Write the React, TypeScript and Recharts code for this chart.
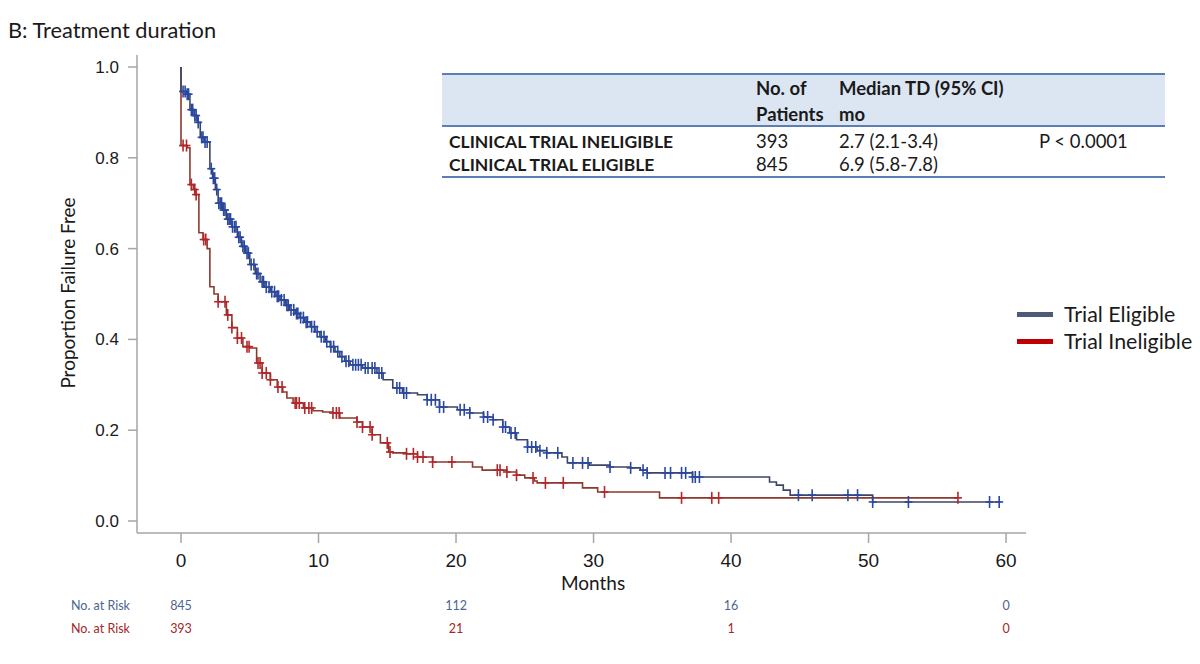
import React from "react";
import { ComposedChart, Line, Scatter, XAxis, YAxis } from "recharts";

// ---------- data ----------
const xTicks = [0, 10, 20, 30, 40, 50, 60];
const yTicks = [0, 0.2, 0.4, 0.6, 0.8, 1.0];

const eligibleMonths = [0, 0, 0.4, 0.65, 0.95, 1.2, 1.4, 1.7, 2.1, 2.3, 2.5, 2.7, 3.0, 3.3, 3.7, 4.1, 4.4, 4.7, 5.0, 5.4, 5.75, 6.1, 6.5, 6.9, 7.2, 7.6, 7.9, 8.3, 8.65, 9.0, 9.4, 9.75, 10.1, 10.5, 10.85, 11.2, 11.55, 11.9, 12.3, 13.2, 14.25, 14.7, 15.4, 16.1, 17.2, 17.9, 18.8, 20.1, 21.0, 22.0, 22.7, 23.4, 23.9, 24.4, 25.2, 25.9, 26.6, 27.7, 28.1, 29.7, 31.2, 32.7, 33.4, 33.9, 37.2, 42.8, 43.3, 43.8, 44.3, 50.3, 59.6];
const eligibleSurvival = [1.0, 0.946, 0.94, 0.906, 0.893, 0.878, 0.845, 0.835, 0.776, 0.755, 0.73, 0.7, 0.685, 0.665, 0.648, 0.625, 0.605, 0.59, 0.565, 0.545, 0.527, 0.515, 0.505, 0.495, 0.487, 0.475, 0.465, 0.457, 0.448, 0.438, 0.428, 0.417, 0.406, 0.395, 0.384, 0.373, 0.362, 0.352, 0.344, 0.337, 0.326, 0.311, 0.293, 0.282, 0.278, 0.267, 0.251, 0.245, 0.238, 0.229, 0.223, 0.207, 0.194, 0.179, 0.163, 0.155, 0.15, 0.141, 0.128, 0.123, 0.119, 0.117, 0.112, 0.106, 0.097, 0.086, 0.079, 0.068, 0.057, 0.042, 0.042];

const ineligibleMonths = [0, 0, 0.45, 0.65, 0.9, 1.05, 1.3, 1.6, 1.9, 2.1, 2.4, 2.7, 3.3, 3.7, 4.1, 4.5, 5.0, 5.5, 5.9, 6.5, 7.0, 7.4, 7.7, 8.15, 8.9, 9.6, 10.3, 11.0, 11.55, 12.8, 13.2, 13.9, 14.5, 15.1, 15.4, 16.4, 17.2, 18.3, 21.2, 21.9, 23.7, 24.4, 25.0, 25.7, 25.9, 29.2, 30.3, 34.8, 56.5];
const ineligibleSurvival = [1.0, 0.827, 0.822, 0.741, 0.73, 0.719, 0.635, 0.62, 0.6, 0.516, 0.5, 0.483, 0.454, 0.426, 0.403, 0.384, 0.381, 0.348, 0.326, 0.311, 0.295, 0.284, 0.271, 0.26, 0.249, 0.243, 0.24, 0.238, 0.227, 0.218, 0.207, 0.19, 0.172, 0.152, 0.15, 0.148, 0.141, 0.13, 0.119, 0.112, 0.108, 0.101, 0.095, 0.088, 0.084, 0.073, 0.064, 0.051, 0.051];

const eligibleCensorMonths = [0.15, 0.3, 0.45, 0.55, 0.75, 0.85, 1.0, 1.1, 1.25, 1.5, 1.6, 1.75, 1.9, 2.2, 2.35, 2.45, 2.6, 2.75, 2.85, 2.95, 3.1, 3.2, 3.4, 3.5, 3.6, 3.75, 3.9, 4.0, 4.2, 4.3, 4.5, 4.6, 4.8, 4.9, 5.1, 5.3, 5.5, 5.6, 5.9, 6.0, 6.2, 6.4, 6.6, 6.8, 7.0, 7.1, 7.3, 7.5, 7.7, 7.8, 8.0, 8.2, 8.4, 8.5, 8.7, 8.9, 9.1, 9.2, 9.5, 9.7, 9.9, 10.2, 10.4, 10.6, 10.9, 11.1, 11.4, 11.7, 12.0, 12.2, 12.5, 12.7, 12.9, 13.1, 13.4, 13.6, 13.9, 14.1, 14.4, 14.6, 15.7, 15.9, 16.2, 16.4, 17.9, 18.2, 18.5, 18.8, 19.1, 20.3, 20.6, 21.0, 22.0, 22.3, 22.7, 23.4, 23.6, 24.0, 24.3, 25.2, 25.5, 25.8, 26.1, 26.6, 27.4, 28.5, 29.2, 29.6, 31.2, 32.7, 33.6, 33.9, 35.2, 35.6, 36.4, 36.7, 37.2, 37.4, 37.7, 44.9, 45.9, 48.5, 49.2, 50.3, 52.9, 58.8, 59.5];
const ineligibleCensorMonths = [0.15, 0.4, 0.75, 1.0, 1.1, 1.65, 1.8, 2.7, 3.2, 3.4, 3.7, 4.1, 4.4, 4.8, 4.95, 5.6, 5.75, 5.9, 6.2, 6.5, 7.05, 7.35, 8.3, 8.4, 8.6, 9.0, 9.3, 9.5, 11.05, 11.3, 11.5, 12.8, 13.2, 13.75, 13.9, 15.0, 15.2, 16.4, 16.9, 17.2, 17.6, 18.3, 19.7, 23.0, 23.2, 23.7, 24.4, 25.6, 26.5, 27.8, 30.8, 36.4, 38.6, 39.1, 56.5];

const riskMonths = [0, 20, 40, 60];
const riskEligible = [845, 112, 16, 0];
const riskIneligible = [393, 21, 1, 0];

const tableHeader1 = ["No. of", "Median TD (95% CI)"];
const tableHeader2 = ["Patients", "mo"];
const tableGroups = ["CLINICAL TRIAL INELIGIBLE", "CLINICAL TRIAL ELIGIBLE"];
const tablePatients = ["393", "845"];
const tableMedians = ["2.7 (2.1-3.4)", "6.9 (5.8-7.8)"];
const tablePValue = "P < 0.0001";

// ---------- geometry / style ----------
const W = 1200;
const H = 664;
const PLOT_LEFT = 137;
const PLOT_TOP = 55;
const PLOT_RIGHT = 1026;
const PLOT_BOTTOM = 533;
const Y_AXIS_W = 60;
const X_AXIS_H = 30;
const X_MIN = -3.2;
const X_MAX = 61.45;
const Y_MIN = -0.0264;
const Y_MAX = 1.0264;

const HUMANIST = "Lato, 'Open Sans', 'Noto Sans', sans-serif";
const ARIAL = "'Liberation Sans', Arial, sans-serif";

const ELIG_LINE = "#3d4566";
const ELIG_MARK = "#2a48a0";
const INEL_LINE = "#8b3a2e";
const INEL_MARK = "#b3262a";
const AXIS = "#a6a6a6";
const TABLE_LINE = "#5b7fb5";

const xPx = (m: number) => PLOT_LEFT + ((m - X_MIN) / (X_MAX - X_MIN)) * (PLOT_RIGHT - PLOT_LEFT);

const survAt = (ts: number[], ss: number[], t: number) => {
  let v = ss[0];
  for (let i = 0; i < ts.length; i++) if (ts[i] <= t) v = ss[i];
  return v;
};

const eligibleData = eligibleMonths.map((t, i) => ({ t, s: eligibleSurvival[i] }));
const ineligibleData = ineligibleMonths.map((t, i) => ({ t, s: ineligibleSurvival[i] }));
const eligibleCensor = eligibleCensorMonths.map((t) => ({ t, s: survAt(eligibleMonths, eligibleSurvival, t) }));
const ineligibleCensor = ineligibleCensorMonths.map((t) => ({ t, s: survAt(ineligibleMonths, ineligibleSurvival, t) }));

const makeMark = (color: string) => (props: any) => {
  const { cx, cy } = props;
  if (cx == null || cy == null) return <g />;
  return (
    <g>
      <line x1={cx} x2={cx} y1={cy - 6} y2={cy + 6} stroke={color} strokeWidth={1.6} />
      <line x1={cx - 4} x2={cx + 4} y1={cy} y2={cy} stroke={color} strokeWidth={1.6} />
    </g>
  );
};

const Txt = ({ x, cy, size, children, weight = 400, color = "#1a1a1a", family = HUMANIST, anchor = "left" }: any) => {
  const h = Math.round(size * 1.2);
  const style: React.CSSProperties = {
    position: "absolute",
    top: cy - h / 2,
    height: h,
    lineHeight: `${h}px`,
    fontSize: size,
    fontWeight: weight,
    color,
    fontFamily: family,
    whiteSpace: "nowrap",
    left: x,
  };
  if (anchor === "center") style.transform = "translateX(-50%)";
  return <div style={style}>{children}</div>;
};

export default function App() {
  const T_LEFT = 442;
  const T_RIGHT = 1165;
  const COL_PAT = 756;
  const COL_MED = 839;
  const COL_P = 1039;
  const LEFT_LABEL = 449;
  const ROW_Y = [141, 164];
  return (
    <div style={{ position: "absolute", left: 0, top: 0, width: W, height: H, background: "#fff", overflow: "hidden" }}>
      <Txt x={8} cy={30} size={21.8}>B: Treatment duration</Txt>

      <div style={{ position: "absolute", left: 0, top: 0 }}>
        <ComposedChart
          width={W}
          height={H}
          margin={{ top: PLOT_TOP, left: PLOT_LEFT - Y_AXIS_W, right: W - PLOT_RIGHT, bottom: H - PLOT_BOTTOM - X_AXIS_H }}
        >
          <XAxis
            type="number"
            dataKey="t"
            domain={[X_MIN, X_MAX]}
            allowDataOverflow
            ticks={xTicks}
            height={X_AXIS_H}
            tickSize={10}
            tickMargin={11}
            stroke={AXIS}
            strokeWidth={1.5}
            tick={{ fill: "#1a1a1a", fontSize: 19, fontFamily: ARIAL }}
            interval={0}
          />
          <YAxis
            type="number"
            domain={[Y_MIN, Y_MAX]}
            allowDataOverflow
            ticks={yTicks}
            width={Y_AXIS_W}
            tickSize={9}
            tickMargin={9}
            stroke={AXIS}
            strokeWidth={1.5}
            tickFormatter={(v: number) => v.toFixed(1)}
            tick={{ fill: "#1a1a1a", fontSize: 17, fontFamily: ARIAL }}
            interval={0}
          />
          <Line
            data={ineligibleData}
            dataKey="s"
            type="stepAfter"
            stroke={INEL_LINE}
            strokeWidth={1.6}
            dot={false}
            activeDot={false}
            isAnimationActive={false}
          />
          <Line
            data={eligibleData}
            dataKey="s"
            type="stepAfter"
            stroke={ELIG_LINE}
            strokeWidth={1.6}
            dot={false}
            activeDot={false}
            isAnimationActive={false}
          />
          <Scatter data={ineligibleCensor} dataKey="s" shape={makeMark(INEL_MARK)} isAnimationActive={false} />
          <Scatter data={eligibleCensor} dataKey="s" shape={makeMark(ELIG_MARK)} isAnimationActive={false} />
        </ComposedChart>
      </div>

      {/* y axis title */}
      <div
        style={{
          position: "absolute",
          left: 68,
          top: 293,
          transform: "translate(-50%, -50%) rotate(-90deg)",
          fontFamily: HUMANIST,
          fontSize: 19,
          lineHeight: "22px",
          color: "#1a1a1a",
          whiteSpace: "nowrap",
        }}
      >
        Proportion Failure Free
      </div>
      {/* x axis title */}
      <Txt x={593} cy={582} size={19} anchor="center">Months</Txt>

      {/* summary table */}
      <div style={{ position: "absolute", left: T_LEFT, top: 74, width: T_RIGHT - T_LEFT, height: 52, background: "#dce6f2" }} />
      <div style={{ position: "absolute", left: T_LEFT, top: 73, width: T_RIGHT - T_LEFT, height: 2, background: TABLE_LINE }} />
      <div style={{ position: "absolute", left: T_LEFT, top: 125, width: T_RIGHT - T_LEFT, height: 1.5, background: TABLE_LINE }} />
      <div style={{ position: "absolute", left: T_LEFT, top: 176, width: T_RIGHT - T_LEFT, height: 2, background: TABLE_LINE }} />
      <Txt x={COL_PAT} cy={88} size={18.5} weight={700}>{tableHeader1[0]}</Txt>
      <Txt x={COL_MED} cy={88} size={18.5} weight={700}>{tableHeader1[1]}</Txt>
      <Txt x={COL_PAT} cy={114} size={18.5} weight={700}>{tableHeader2[0]}</Txt>
      <Txt x={COL_MED} cy={114} size={18.5} weight={700}>{tableHeader2[1]}</Txt>
      {tableGroups.map((g, i) => (
        <React.Fragment key={g}>
          <Txt x={LEFT_LABEL} cy={ROW_Y[i]} size={17.5} weight={700}>{g}</Txt>
          <Txt x={COL_PAT} cy={ROW_Y[i]} size={18.5}>{tablePatients[i]}</Txt>
          <Txt x={COL_MED} cy={ROW_Y[i]} size={18.5}>{tableMedians[i]}</Txt>
        </React.Fragment>
      ))}
      <Txt x={COL_P} cy={ROW_Y[0]} size={18.5}>{tablePValue}</Txt>

      {/* legend */}
      <div style={{ position: "absolute", left: 1017, top: 312, width: 36, height: 5, background: "#4d5a78" }} />
      <Txt x={1064} cy={314} size={21.4}>Trial Eligible</Txt>
      <div style={{ position: "absolute", left: 1017, top: 339, width: 36, height: 5, background: "#c00000" }} />
      <Txt x={1064} cy={341} size={21.4}>Trial Ineligible</Txt>

      {/* number at risk */}
      <Txt x={71} cy={605} size={12.5} color="#4a6592">No. at Risk</Txt>
      <Txt x={71} cy={628} size={12.5} color="#a3262a">No. at Risk</Txt>
      {riskMonths.map((m, i) => (
        <React.Fragment key={m}>
          <Txt x={xPx(m)} cy={605} size={12.5} color="#4a6592" anchor="center">{riskEligible[i]}</Txt>
          <Txt x={xPx(m)} cy={628} size={12.5} color="#a3262a" anchor="center">{riskIneligible[i]}</Txt>
        </React.Fragment>
      ))}
    </div>
  );
}
